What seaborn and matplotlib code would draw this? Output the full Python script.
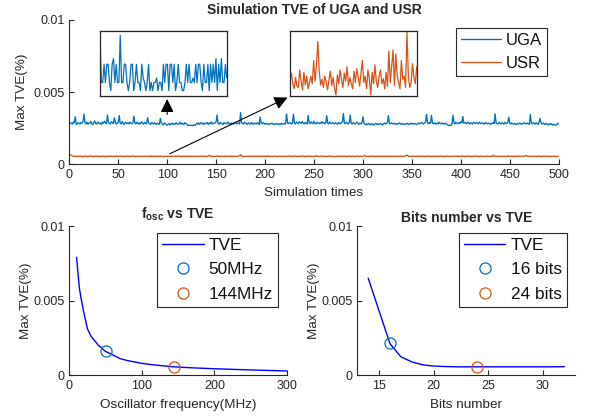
import numpy as np
import pandas as pd
import matplotlib
matplotlib.use('Agg')
import matplotlib.pyplot as plt
import seaborn as sns

# ---- data ----
# Max TVE (%) per simulation run, in units of 1e-5
uga = [
    290, 284, 278, 292, 287, 330, 281, 276, 288, 283,
    279, 291, 285, 296, 348, 287, 280, 293, 277, 286,
    284, 297, 281, 275, 289, 301, 283, 278, 294, 286,
    280, 288, 276, 292, 284, 299, 287, 281, 342, 290,
    283, 278, 296, 288, 281, 322, 292, 279, 286, 290,
    338, 285, 280, 297, 283, 276, 291, 287, 282, 289,
    279, 293, 285, 281, 288, 334, 286, 279, 292, 284,
    277, 288, 281, 295, 283, 278, 290, 285, 280, 324,
    287, 281, 276, 290, 284, 279, 288, 282, 275, 286,
    281, 277, 318, 284, 279, 273, 287, 281, 276, 270,
    278, 283, 272, 280, 286, 275, 281, 277, 289, 283,
    276, 282, 291, 278, 285, 280, 274, 288, 283, 279,
    269, 272, 268, 271, 270, 268, 273, 269, 271, 285,
    279, 288, 276, 283, 291, 281, 277, 286, 280, 284,
    290, 276, 287, 281, 293, 279, 285, 282, 288, 294,
    341, 283, 278, 290, 285, 281, 276, 289, 284, 280,
    287, 293, 279, 284, 276, 288, 282, 278, 291, 285,
    280, 287, 283, 279, 358, 289, 284, 278, 292, 286,
    281, 276, 288, 283, 279, 290, 284, 277, 286, 281,
    279, 288, 283, 276, 327, 285, 280, 289, 283, 277,
    284, 280, 276, 283, 278, 281, 286, 279, 275, 282,
    277, 283, 279, 274, 281, 276, 285, 280, 277, 283,
    279, 349, 286, 281, 290, 284, 279, 288, 346, 285,
    280, 292, 286, 281, 295, 288, 283, 297, 285, 280,
    291, 284, 279, 339, 287, 282, 294, 286, 281, 298,
    284, 279, 292, 286, 281, 289, 283, 295, 285, 290,
    281, 287, 337, 284, 279, 293, 286, 281, 289, 284,
    280, 288, 283, 278, 291, 285, 281, 287, 294, 352,
    286, 281, 292, 285, 280, 289, 341, 284, 279, 288,
    283, 279, 286, 291, 282, 277, 285, 280, 288, 329,
    284, 279, 272, 281, 276, 283, 278, 274, 282, 277,
    271, 279, 283, 276, 281, 275, 280, 284, 277, 272,
    280, 286, 279, 283, 290, 338, 285, 280, 287, 282,
    278, 285, 281, 276, 283, 279, 287, 282, 276, 284,
    279, 275, 282, 278, 284, 280, 276, 283, 279, 285,
    281, 277, 284, 280, 276, 282, 287, 279, 284, 290,
    283, 279, 288, 294, 347, 286, 281, 290, 284, 339,
    285, 280, 288, 283, 278, 286, 281, 291, 284, 279,
    287, 282, 277, 285, 281, 275, 271, 268, 272, 269,
    284, 340, 286, 281, 292, 285, 280, 289, 283, 295,
    287, 332, 284, 290, 286, 281, 293, 285, 280, 288,
    283, 279, 291, 286, 282, 289, 284, 280, 292, 285,
    281, 287, 283, 278, 290, 284, 280, 286, 282, 277,
    285, 281, 288, 283, 349, 286, 281, 279, 290, 284,
    280, 288, 283, 278, 291, 286, 282, 289, 327, 284,
    279, 286, 281, 277, 284, 280, 275, 283, 279, 286,
    282, 277, 285, 281, 288, 283, 279, 286, 281, 276,
    346, 285, 280, 289, 283, 278, 287, 282, 276, 294,
    318, 283, 279, 286, 281, 276, 284, 279, 273, 280,
    275, 282, 277, 271, 279, 274, 270, 276, 284, 279,
]
usr = [
    66, 63, 58, 55, 57, 54, 56, 53, 58, 55,
    54, 57, 55, 52, 56, 58, 54, 55, 53, 57,
    55, 59, 54, 56, 53, 55, 58, 54, 57, 55,
    53, 56, 54, 58, 55, 52, 56, 57, 54, 55,
    58, 54, 56, 53, 57, 55, 54, 59, 55, 53,
    56, 54, 58, 55, 53, 57, 54, 56, 55, 58,
    54, 53, 57, 55, 59, 54, 56, 53, 55, 57,
    54, 58, 55, 53, 56, 54, 57, 55, 53, 56,
    55, 57, 54, 58, 53, 56, 55, 54, 57, 55,
    53, 56, 58, 54, 55, 57, 53, 55, 56, 54,
    57, 54, 56, 53, 58, 55, 54, 56, 53, 57,
    55, 58, 54, 56, 53, 55, 57, 54, 56, 55,
    53, 57, 55, 54, 58, 55, 53, 56, 54, 57,
    55, 53, 56, 58, 54, 55, 57, 54, 56, 53,
    55, 58, 63, 56, 54, 57, 55, 53, 56, 54,
    58, 55, 53, 57, 54, 56, 55, 53, 58, 54,
    56, 55, 57, 53, 55, 58, 54, 56, 53, 57,
    55, 54, 58, 60, 67, 57, 54, 56, 55, 53,
    57, 55, 54, 56, 58, 53, 55, 57, 54, 56,
    54, 57, 55, 53, 56, 58, 54, 55, 57, 53,
    56, 54, 58, 55, 53, 57, 55, 54, 56, 58,
    54, 55, 53, 57, 56, 54, 58, 55, 53, 56,
    55, 57, 54, 56, 59, 54, 55, 57, 53, 56,
    58, 54, 55, 53, 57, 55, 56, 54, 58, 55,
    53, 56, 54, 57, 55, 58, 54, 56, 53, 55,
    57, 54, 60, 55, 53, 56, 58, 54, 55, 57,
    54, 56, 53, 55, 58, 54, 57, 55, 53, 56,
    55, 53, 57, 54, 56, 55, 53, 58, 54, 56,
    57, 55, 54, 56, 53, 58, 55, 54, 57, 55,
    53, 56, 54, 58, 55, 53, 57, 55, 54, 56,
    58, 62, 55, 54, 57, 53, 56, 55, 58, 54,
    55, 57, 53, 56, 54, 55, 58, 54, 56, 53,
    57, 55, 54, 56, 58, 53, 55, 57, 54, 56,
    54, 57, 55, 53, 56, 58, 54, 55, 57, 54,
    56, 54, 58, 61, 64, 57, 54, 56, 55, 53,
    57, 55, 54, 56, 58, 53, 55, 57, 54, 56,
    54, 57, 55, 53, 56, 58, 54, 55, 57, 53,
    56, 54, 58, 55, 53, 57, 55, 54, 56, 58,
    54, 55, 53, 57, 56, 54, 58, 55, 53, 56,
    55, 57, 54, 56, 59, 54, 55, 57, 53, 56,
    58, 54, 55, 53, 57, 55, 56, 54, 58, 55,
    53, 56, 54, 57, 55, 58, 54, 56, 53, 55,
    57, 54, 56, 55, 53, 56, 58, 54, 55, 57,
    54, 56, 63, 55, 58, 54, 57, 55, 53, 56,
    55, 53, 57, 54, 56, 55, 53, 58, 54, 56,
    57, 55, 54, 56, 53, 58, 55, 54, 57, 55,
    53, 56, 54, 58, 55, 60, 62, 55, 54, 56,
    58, 54, 55, 57, 53, 56, 54, 55, 58, 54,
    56, 53, 55, 57, 54, 56, 58, 54, 55, 57,
    53, 56, 54, 55, 57, 54, 56, 53, 55, 56,
]

# zoomed-in insets (relative level, 0-100)
inset_uga = [90, 20, 20, 49, 20, 49, 49, 20, 7, 49, 58, 20, 49, 20, 20, 95, 20, 20, 49, 49,
             20, 7, 20, 49, 49, 7, 20, 49, 20, 20, 7, 49, 27, 20, 7, 20, 49, 7, 20, 7,
             20, 20, 27, 7, 20, 20, 7, 49, 20, 49, 49, 7, 49, 49, 20, 49, 7, 20, 49, 20,
             20, 7, 7, 20, 49, 20, 49, 20, 20, 27, 20, 49, 20, 49, 49, 20, 7, 49, 20, 20,
             49, 7, 49, 20, 49, 20, 58, 7, 49, 20, 58, 20, 20, 49, 27]
inset_usr = [22, 35, 18, 10, 28, 14, 12, 40, 22, 8, 36, 16, 30, 10, 20, 30, 18, 55, 22, 48,
             85, 38, 16, 25, 12, 30, 20, 8, 24, 38, 15, 28, 10, 0, 32, 18, 40, 25, 12, 35,
             22, 45, 15, 28, 18, 10, 38, 20, 42, 28, 14, 35, 55, 20, 30, 10, 40, 25, 0, 36,
             18, 48, 22, 12, 30, 40, 18, 26, 10, 36, 14, 70, 20, 45, 72, 15, 65, 30, 20, 10,
             55, 25, 30, 12, 100, 30, 12, 20, 50, 28, 18, 45]

# oscillator frequency sweep
f_osc = [10, 12, 14, 16, 18, 20, 25, 30, 40, 50, 60, 70, 80, 100, 120, 144, 170, 200, 250, 300]
tve_f = [0.0079, 0.0068, 0.0058, 0.0052, 0.0047, 0.0042, 0.0031, 0.0026, 0.0020, 0.00158,
         0.00135, 0.0011, 0.00097, 0.00078, 0.00066, 0.00055, 0.00048, 0.00042, 0.00034, 0.00027]
f_marks = [50, 144]
f_mark_tve = [0.00158, 0.00055]
f_labels = ['50MHz', '144MHz']

# bit-width sweep
bits = [14, 15, 16, 17, 18, 19, 20, 21, 22, 23, 24, 25, 26, 27, 28, 29, 30, 31, 32]
tve_b = [0.0065, 0.0043, 0.0021, 0.00122, 0.00088, 0.00068, 0.0006, 0.00057, 0.00055, 0.00055,
         0.00055, 0.00055, 0.00055, 0.00055, 0.00055, 0.00055, 0.00055, 0.00055, 0.00056]
b_marks = [16, 24]
b_mark_tve = [0.00215, 0.00055]
b_labels = ['16 bits', '24 bits']

# ---- style ----
sns.set_style('ticks')
plt.rcParams['font.family'] = ['Liberation Sans', 'DejaVu Sans']
plt.rcParams['mathtext.fontset'] = 'custom'
plt.rcParams['mathtext.rm'] = 'Liberation Sans'
plt.rcParams['mathtext.bf'] = 'Liberation Sans:bold'
plt.rcParams['mathtext.it'] = 'Liberation Sans:italic'

AX_COL = '#262626'
BLUE = '#0072BD'
ORANGE = '#D95319'


def style_axes(ax):
    sns.despine(ax=ax)
    for s in ['left', 'bottom']:
        ax.spines[s].set_color(AX_COL)
        ax.spines[s].set_linewidth(0.8)
    ax.tick_params(direction='in', length=3.5, width=0.8, colors=AX_COL, labelsize=9)
    ax.set_yticks([0, 0.005, 0.01])
    ax.set_yticklabels(['0', '0.005', '0.01'])
    ax.set_ylim(0, 0.01)


def make_legend(ax, x, y, fs, spacing):
    leg = ax.legend(loc='upper right', bbox_to_anchor=(x, y), borderaxespad=0,
                    fontsize=fs, frameon=True, fancybox=False, framealpha=1,
                    handlelength=2.4, handletextpad=0.3, labelspacing=spacing, borderpad=0.3)
    leg.get_frame().set_edgecolor(AX_COL)
    leg.get_frame().set_linewidth(0.8)
    for t in leg.get_texts():
        t.set_color('#111111')
    return leg


fig = plt.figure(figsize=(6, 4.19), dpi=100)

# ---- top: simulation traces ----
ax = fig.add_axes([0.1155, 0.6079, 0.8157, 0.3444])
df = pd.DataFrame({
    'run': np.concatenate([np.arange(1, len(uga) + 1), np.arange(1, len(usr) + 1)]),
    'tve': np.concatenate([np.array(uga) * 1e-5, np.array(usr) * 1e-5]),
    'method': ['UGA'] * len(uga) + ['USR'] * len(usr),
})
sns.lineplot(data=df, x='run', y='tve', hue='method', palette=[BLUE, ORANGE],
             estimator=None, lw=0.95, ax=ax)
style_axes(ax)
ax.set_xlim(0, 500)
ax.set_xticks(np.arange(0, 501, 50))
ax.set_xlabel('Simulation times', fontsize=9.7, color=AX_COL, labelpad=4)
ax.set_ylabel('Max TVE(%)', fontsize=9.7, color=AX_COL, labelpad=4)
ax.set_title('Simulation TVE of UGA and USR', fontsize=10, fontweight='bold', pad=4)
make_legend(ax, 0.976, 0.945, 12, 0.5)

# arrows pointing at the insets
ax.annotate('', xy=(100, 0.00471), xytext=(100, 0.00326),
            arrowprops=dict(arrowstyle='-|>', color='k', lw=0.8, mutation_scale=20))
ax.annotate('', xy=(225.5, 0.00471), xytext=(100, 0.00064),
            arrowprops=dict(arrowstyle='-|>', color='k', lw=0.8, mutation_scale=20))

for pos, data, col in [([0.1667, 0.7702, 0.2112, 0.1558], inset_uga, BLUE),
                       ([0.4833, 0.7702, 0.2112, 0.1558], inset_usr, ORANGE)]:
    ins = fig.add_axes(pos)
    sns.lineplot(x=np.arange(len(data)), y=data, color=col, lw=0.9, ax=ins)
    ins.set_xlim(0, len(data) - 1)
    ins.set_ylim(-2, 102)
    ins.set_xticks([])
    ins.set_yticks([])
    for s in ins.spines.values():
        s.set_color(AX_COL)
        s.set_linewidth(0.9)

# ---- bottom left: oscillator frequency ----
ax1 = fig.add_axes([0.1155, 0.105, 0.3628, 0.3556])
sns.lineplot(x=f_osc, y=tve_f, color='#0000FF', lw=1.0, label='TVE', ax=ax1)
for xm, ym, lab, c in zip(f_marks, f_mark_tve, f_labels, [BLUE, ORANGE]):
    ax1.plot([xm], [ym], ls='none', marker='o', ms=8, mfc='none', mec=c, mew=0.9, label=lab)
style_axes(ax1)
ax1.set_xlim(0, 300)
ax1.set_xticks([0, 100, 200, 300])
ax1.set_xlabel('Oscillator frequency(MHz)', fontsize=9.7, color=AX_COL, labelpad=5)
ax1.set_ylabel('Max TVE(%)', fontsize=9.7, color=AX_COL, labelpad=1)
ax1.set_title(r'$\mathbf{f_{osc}}$ vs TVE', fontsize=10, fontweight='bold', pad=5)
make_legend(ax1, 0.960, 0.955, 12.4, 0.55)

# ---- bottom right: bit width ----
ax2 = fig.add_axes([0.5955, 0.105, 0.3633, 0.3556])
sns.lineplot(x=bits, y=tve_b, color='#0000FF', lw=1.0, label='TVE', ax=ax2)
for xm, ym, lab, c in zip(b_marks, b_mark_tve, b_labels, [BLUE, ORANGE]):
    ax2.plot([xm], [ym], ls='none', marker='o', ms=8, mfc='none', mec=c, mew=0.9, label=lab)
style_axes(ax2)
ax2.set_xlim(13, 33)
ax2.set_xticks([15, 20, 25, 30])
ax2.set_xlabel('Bits number', fontsize=9.7, color=AX_COL, labelpad=5)
ax2.set_ylabel('Max TVE(%)', fontsize=9.7, color=AX_COL, labelpad=1)
ax2.set_title('Bits number vs TVE', fontsize=10, fontweight='bold', pad=3)
make_legend(ax2, 0.9606, 0.955, 12.4, 0.55)

fig.savefig('out.png', dpi=100)
